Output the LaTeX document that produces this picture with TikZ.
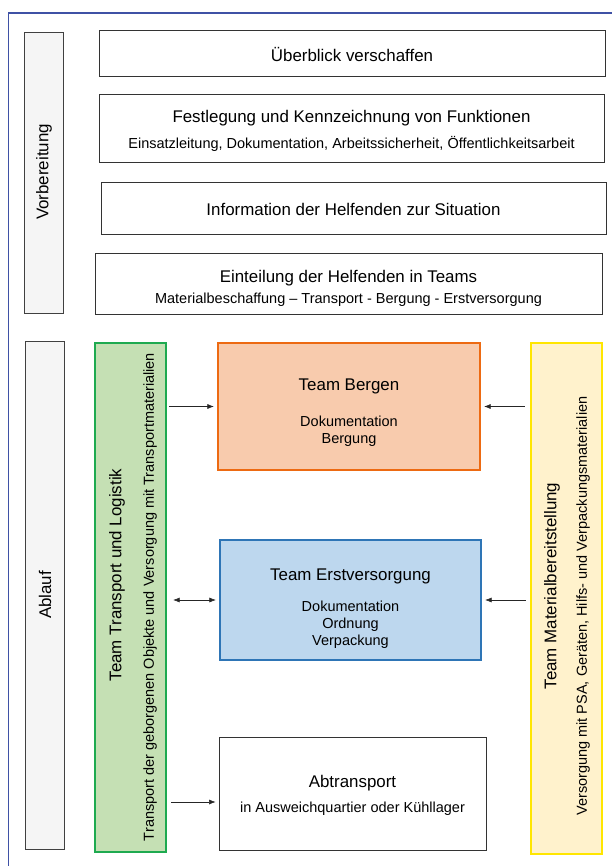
\documentclass[tikz,border=0pt]{standalone}
\usepackage{fontspec}
\setmainfont{Liberation Sans}
\usetikzlibrary{arrows.meta}

\newcommand{\bigtxt}{\fontsize{16.9}{19}\selectfont}
\newcommand{\smltxt}{\fontsize{14.5}{17}\selectfont}

\begin{document}
\begin{tikzpicture}[x=1pt, y=-1pt,
    box/.style={draw=black!80, line width=0.8pt, fill=white, inner sep=0pt},
    side/.style={draw=black!75, line width=0.8pt, fill=black!4, inner sep=0pt, minimum width=39pt},
    team/.style={line width=2.2pt, inner sep=0pt},
    txt/.style={align=center, inner sep=0pt, font=\smltxt},
    vtext/.style={rotate=90, inner sep=0pt},
    arr/.style={-{Latex[length=6.5pt,width=5pt]}, draw=black!85, line width=0.6pt}]
\useasboundingbox (0,0) rectangle (611,866);
\draw[color={rgb,255:red,63;green,81;blue,165}, line width=1.2pt] (8.5,870) -- (8.5,13) -- (615,13);

% Vorbereitung
\node[side, minimum height=281pt] (vorb) at (43.5,172.5) {};
\node[vtext] (vorbtxt) at (44,172) {\bigtxt Vorbereitung};
\node[box, minimum width=506pt, minimum height=46pt] (ueber) at (352,53) {};
\node[txt] (uebertxt) at ([yshift=-2pt]ueber.center) {\bigtxt Überblick verschaffen};
\node[box, minimum width=505pt, minimum height=68pt] (festl) at (351.5,128) {};
\node[txt] (festltxt) at ([yshift=-3pt]festl.center)
    {\bigtxt Festlegung und Kennzeichnung von Funktionen\\[9pt]
     Einsatzleitung, Dokumentation, Arbeitssicherheit, Öffentlichkeitsarbeit};
\node[box, minimum width=505pt, minimum height=52pt] (info) at (353.5,208) {};
\node[txt] (infotxt) at ([yshift=-1pt]info.center) {\bigtxt Information der Helfenden zur Situation};
\node[box, minimum width=507pt, minimum height=61pt] (eint) at (348.5,283.5) {};
\node[txt] (einttxt) at ([yshift=-4.5pt]eint.center)
    {\bigtxt Einteilung der Helfenden in Teams\\[4pt]
     Materialbeschaffung -- Transport - Bergung - Erstversorgung};

% Ablauf
\node[side, minimum height=508pt] (ablauf) at (44.5,595) {};
\node[vtext] (ablauftxt) at (45,595) {\bigtxt Ablauf};
\node[team, draw={rgb,255:red,30;green,170;blue,80}, fill={rgb,255:red,197;green,224;blue,180},
    minimum width=71pt, minimum height=509pt] (transp) at (130.5,597.5) {};
\node[vtext] (transptitle) at (117,575) {\bigtxt Team Transport und Logistik};
\node[vtext] (transpsub) at (150,597) {\smltxt Transport der geborgenen Objekte und Versorgung mit Transportmaterialien};
\node[team, draw={rgb,255:red,255;green,230;blue,0}, fill={rgb,255:red,255;green,242;blue,204},
    minimum width=71pt, minimum height=511pt] (mat) at (566.5,598.5) {};
\node[vtext] (mattitle) at (552,586) {\bigtxt Team Materialbereitstellung};
\node[vtext] (matsub) at (583,606) {\smltxt Versorgung mit PSA, Geräten, Hilfs- und Verpackungsmaterialien};
\node[team, draw={rgb,255:red,237;green,106;blue,18}, fill={rgb,255:red,248;green,203;blue,173},
    minimum width=262pt, minimum height=127pt] (bergen) at (349,406.5) {};
\node[txt] (bergentxt) at ([yshift=-6pt]bergen.center)
    {\bigtxt Team Bergen\\[19pt] Dokumentation\\ Bergung};
\node[team, draw={rgb,255:red,46;green,117;blue,182}, fill={rgb,255:red,189;green,215;blue,238},
    minimum width=261pt, minimum height=120pt] (erst) at (350.5,600) {};
\node[txt] (ersttxt) at ([yshift=-9pt]erst.center)
    {\bigtxt Team Erstversorgung\\[14pt] Dokumentation\\ Ordnung\\ Verpackung};
\node[box, minimum width=267pt, minimum height=113pt] (abtr) at (352.5,793.5) {};
\node[txt] (abtrtxt) at ([yshift=-2pt]abtr.center)
    {\bigtxt Abtransport\\[8pt] in Ausweichquartier oder Kühllager};

% Verbindungen
\draw[arr, shorten <=2pt, shorten >=3pt] (transp.east |- bergen.west) -- (bergen.west);
\draw[arr, shorten <=5pt, shorten >=3pt] (mat.west |- bergen.east) -- (bergen.east);
\draw[arr, {Latex[length=6.5pt,width=5pt]}-{Latex[length=6.5pt,width=5pt]}, shorten <=6pt, shorten >=3pt] (transp.east |- erst.west) -- (erst.west);
\draw[arr, shorten <=4pt, shorten >=3pt] (mat.west |- erst.east) -- (erst.east);
\draw[arr, shorten <=4pt, shorten >=3pt] (transp.east |- 0,802) -- (abtr.west |- 0,802);
\end{tikzpicture}
\end{document}
